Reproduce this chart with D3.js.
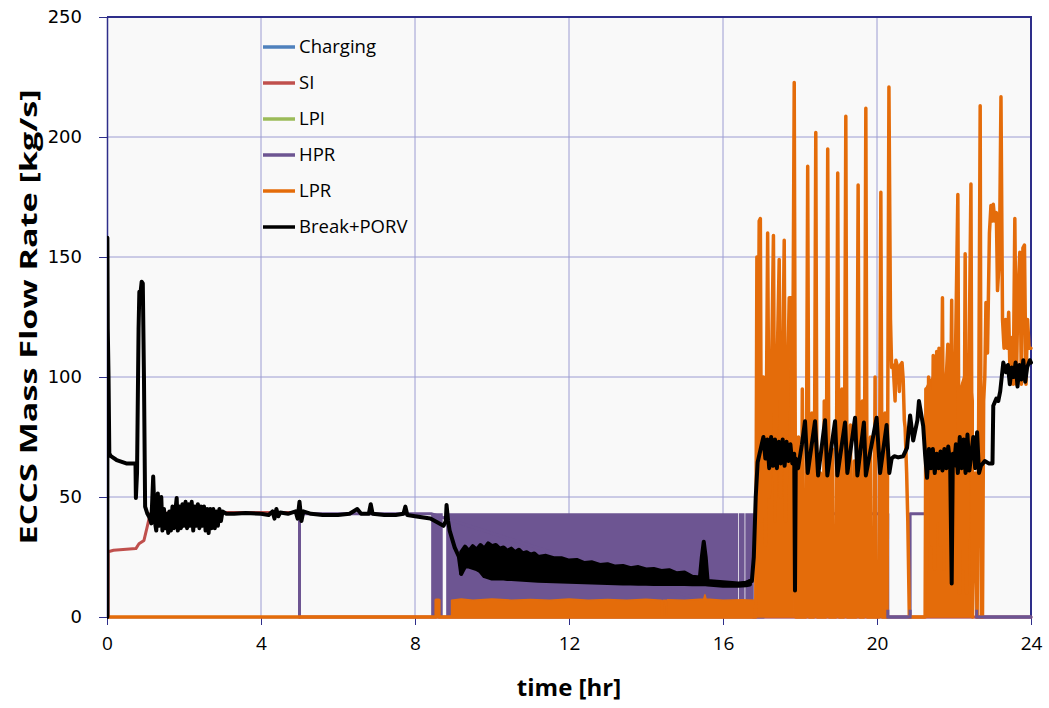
<!DOCTYPE html>
<html><head><meta charset="utf-8">
<script src="https://cdn.jsdelivr.net/npm/d3@7"></script>
<style>body{margin:0;background:#fff}</style>
</head><body><svg id="c" width="1049" height="708"></svg>
<script>
// ---------------- DATA ----------------
const xTicks = [0, 4, 8, 12, 16, 20, 24];
const yTicks = [0, 50, 100, 150, 200, 250];
const seriesNames = ["Charging", "SI", "LPI", "HPR", "LPR", "Break+PORV"];
const seriesColors = ["#4f81bd", "#c0504d", "#9bbb59", "#6d5592", "#e46c0a", "#000000"];

// SI (safety injection)
const siT = [0, 0.03, 0.03, 0.17, 0.75, 0.83, 0.96, 1.05, 1.12, 2.0, 5.0, 5.0, 24];
const siV = [0, 0, 27.2, 27.8, 28.5, 30.5, 31.9, 38, 43, 43.5, 43.5, 0, 0];

// HPR step line
const hprT = [5.0, 5.0, 8.42, 16.8, 17.05, 17.05, 20.28, 20.28, 20.86, 20.86, 22.59, 22.59, 24];
const hprV = [0, 43, 43, 0, 0, 43, 43, 0, 0, 43, 43, 0, 0];
// HPR dense switching region (envelope)
const hprBandT  = [8.42, 8.72, 8.72, 8.81, 8.81, 16.39, 16.39, 16.41, 16.41, 16.56, 16.56, 16.58, 16.58, 16.8];
const hprBandHi = [43.2, 43.2, 0, 0, 43.2, 43.2, 0, 0, 43.2, 43.2, 0, 0, 43.2, 43.2];

// LPR line
const lprT = [0, 8.55, 8.55, 8.62, 8.62, 16.85,
  16.88, 16.9, 16.94, 16.97, 17.0, 17.05, 17.1, 17.16, 17.2, 17.25, 17.31, 17.35, 17.4, 17.46, 17.5, 17.55, 17.59, 17.63, 17.68, 17.72, 17.76, 17.8, 17.85,
  17.89, 17.93, 17.96, 17.98, 18.03, 18.06, 18.09, 18.15, 18.2, 18.24, 18.28, 18.31, 18.33, 18.36, 18.41, 18.45, 18.5, 18.53, 18.55, 18.6, 18.63, 18.65,
  18.67, 18.72, 18.76, 18.81, 18.84, 18.86, 18.93, 18.98, 19.02, 19.06, 19.09, 19.11, 19.14, 19.19, 19.23, 19.28, 19.31, 19.33, 19.38, 19.41, 19.43,
  19.46, 19.51, 19.55, 19.59, 19.62, 19.64, 19.66, 19.71, 19.75, 19.8, 19.83, 19.85, 19.92, 19.95, 19.97, 20.05, 20.1, 20.14, 20.18, 20.21, 20.23,
  20.26, 20.31, 20.35, 20.38, 20.42, 20.47, 20.49, 20.55, 20.58, 20.61, 20.65, 20.68, 20.71, 20.73, 20.77, 20.8, 20.84, 21.25,
  21.27, 21.3, 21.34, 21.38, 21.42, 21.46, 21.5, 21.55, 21.58, 21.61, 21.65, 21.7, 21.74, 21.8, 21.84, 21.88, 21.94, 21.98, 22.03, 22.1, 22.14,
  22.2, 22.25, 22.29, 22.33, 22.38, 22.44, 22.48, 22.55, 22.6, 22.64, 22.68, 22.71, 22.74, 22.77, 22.8, 22.83, 22.87, 22.92, 22.96, 23.0, 23.02,
  23.06, 23.1, 23.13, 23.18, 23.22, 23.26, 23.3, 23.34, 23.38, 23.42, 23.46, 23.5, 23.54, 23.58, 23.62, 23.66, 23.71, 23.75, 23.79, 23.83, 23.87,
  23.91, 23.95, 24.0];
const lprV = [0, 0, 7, 7, 0, 0,
  150, 60, 165, 166, 40, 100, 30, 160, 50, 90, 159, 40, 100, 149, 50, 100, 157, 40, 100, 133, 133, 60, 222.7,
  0, 0, 75, 0, 0, 95, 0, 0, 187.8, 0, 0, 85, 0, 0, 201.9, 0, 0, 60, 0, 0, 90, 0,
  0, 195, 0, 0, 70, 0, 0, 185, 0, 0, 95, 0, 0, 208.6, 0, 0, 80, 0, 0, 65, 0,
  0, 180, 0, 0, 90, 0, 0, 212, 0, 0, 75, 0, 0, 100, 0, 0, 177, 0, 0, 85, 0,
  0, 220.8, 124, 104, 105, 90, 107, 103, 94, 105, 106, 99, 82, 79, 60, 40, 0, 0,
  95, 20, 100, 90, 30, 109, 20, 110.6, 40, 112, 30, 133, 20, 100, 113.6, 30, 132, 20, 100, 176, 10,
  95, 20, 151.4, 10, 90, 180.4, 0, 60, 0, 80, 213, 0, 0, 90, 100, 131, 110, 160, 171.5, 165, 172,
  165, 168.5, 136, 150, 216.8, 124, 112, 124, 112, 127, 97, 116.5, 97, 166, 97, 134, 152, 97, 153.7, 155, 97,
  124, 112, 112];
// LPR dense regions (envelopes, low edge 0)
const lprBand1T  = [8.95, 9.2, 9.5, 10, 10.5, 11, 11.5, 12, 12.5, 13, 13.5, 14, 14.4, 14.41, 14.43, 14.44, 14.51, 14.52, 14.54, 14.55, 15, 15.5, 15.53, 15.56, 16, 16.5, 16.84];
const lprBand1Hi = [7, 7.5, 7, 7.5, 7, 7.3, 7, 7.5, 7, 7.3, 7, 7.4, 7, 0, 0, 7, 7, 0, 0, 7.2, 7, 7.5, 9.3, 7.5, 7, 7.2, 7];
const lprBand2T  = [16.85, 16.86, 16.9, 17.0, 17.1, 17.2, 17.3, 17.4, 17.5, 17.6, 17.7, 17.8, 17.84];
const lprBand2Hi = [0, 70, 95, 85, 100, 95, 105, 98, 108, 100, 105, 95, 90];
const lprBand3T  = [21.25, 21.26, 21.35, 21.45, 21.55, 21.65, 21.75, 21.85, 21.95, 22.05, 22.15, 22.25, 22.35, 22.45, 22.5];
const lprBand3Hi = [0, 95, 98, 100, 96, 104, 100, 106, 98, 102, 95, 100, 92, 97, 90];

// Break+PORV line, part 1 (0 - 9.2 hr)
const brkT1 = [0, 0.01, 0.01, 0.02, 0.04, 0.06, 0.1, 0.25, 0.5, 0.74, 0.75, 0.78, 0.82, 0.84, 0.87, 0.9, 0.93, 0.96, 0.99, 1.05, 1.1, 1.15, 1.2, 1.24, 1.28, 1.32, 1.36, 1.41,
  1.44, 1.48, 1.52, 1.56, 1.59, 1.62, 1.66, 1.7, 1.74, 1.78, 1.81, 1.84, 1.88, 1.92, 1.96, 2.0, 2.04, 2.08, 2.12, 2.16, 2.2, 2.24, 2.28, 2.32, 2.36,
  2.4, 2.44, 2.48, 2.52, 2.56, 2.6, 2.64, 2.68, 2.72, 2.76, 2.8, 2.84, 2.88, 2.92, 2.96, 3.0, 3.1, 3.3, 3.6, 4.0, 4.2, 4.3, 4.35, 4.4, 4.45, 4.5,
  4.7, 4.9, 4.95, 5.0, 5.05, 5.1, 5.3, 5.6, 6.0, 6.3, 6.5, 6.6, 6.8, 6.85, 6.9, 7.2, 7.5, 7.7, 7.75, 7.8, 8.0, 8.4, 8.74, 8.8, 8.82, 8.86, 8.9,
  9.03, 9.14, 9.2];
const brkV1 = [0, 0, 158, 120, 100, 68.2, 67, 65.4, 64, 64, 49.6, 60, 120, 135.5, 135, 139.7, 139, 100, 46, 43, 41.6, 39, 58.5, 40, 36, 51.5, 38, 50,
  36, 45, 37, 43, 35, 44, 36, 46, 37, 45, 49.6, 36, 46, 37, 47, 38, 48, 37, 47, 38, 48, 36, 46, 38, 47,
  37, 46, 38, 46, 36, 45, 35, 45, 37, 45, 37, 44, 38, 45, 40, 44, 43, 43, 43.3, 43, 42.5, 44, 41, 45, 42, 43.5,
  43, 44, 41, 48, 40, 44, 43, 42.5, 42.5, 43, 45, 43, 43, 47, 43, 42.5, 42.5, 43, 46, 42.5, 42, 41, 38, 40, 46.7, 40, 36,
  29, 25.1, 18];
// Break+PORV dense oscillation band (9.2 - 16.7 hr)
const brkBandT  = [9.2, 9.3, 9.4, 9.5, 9.6, 9.7, 9.8, 9.9, 10.0, 10.1, 10.2, 10.3, 10.4, 10.5, 10.6, 10.7, 10.8, 10.9, 11.0, 11.1, 11.2, 11.4, 11.6, 11.8,
  12.0, 12.2, 12.4, 12.6, 12.8, 13.0, 13.2, 13.4, 13.6, 13.8, 14.0, 14.2, 14.4, 14.6, 14.8, 15.0, 15.2, 15.4, 15.45, 15.5, 15.55, 15.6, 16.0, 16.4, 16.6, 16.7];
const brkBandHi = [27, 29.3, 27.5, 29.5, 28, 30, 28.5, 30.7, 29.5, 30, 28.5, 29, 27.5, 28.5, 27, 28, 26.5, 27, 26, 26.5, 25, 25.5, 24.5, 24.5,
  23.5, 23.8, 22.5, 22.8, 21.7, 22, 21, 21.3, 20.3, 20.8, 19.8, 20, 19.2, 19.5, 18.2, 18.5, 16.8, 16.5, 25, 31.4, 25, 15, 14.5, 14, 14.3, 15];
const brkBandLo = [18, 21, 21, 20.5, 20, 19, 17, 16.5, 16, 16, 16, 16, 15.8, 15.8, 15.7, 15.6, 15.5, 15.4, 15.3, 15.2, 15.1, 15, 14.9, 14.8,
  14.7, 14.6, 14.5, 14.4, 14.3, 14.2, 14.1, 14, 14, 13.9, 13.9, 13.8, 13.8, 13.8, 13.7, 13.7, 13.6, 13.6, 13.6, 13.6, 13.6, 13.5, 13, 13, 13.2, 13.5];
// Break+PORV line, part 2 (16.7 - 24 hr)
const brkT2 = [16.7, 16.75, 16.8, 16.85, 16.9, 16.95, 17.05, 17.1, 17.15, 17.2, 17.25, 17.3, 17.35, 17.4, 17.45, 17.5, 17.55, 17.6, 17.65, 17.7, 17.75, 17.8,
  17.85, 17.87, 17.89, 17.95, 18.05, 18.13, 18.2, 18.39, 18.47, 18.65, 18.71, 18.91, 18.97, 19.17, 19.23, 19.43, 19.49, 19.66, 19.71, 19.99, 20.08,
  20.25, 20.32, 20.38, 20.45, 20.55, 20.68, 20.78, 20.86, 20.94, 21.05, 21.09, 21.2, 21.25, 21.3, 21.35, 21.4, 21.45, 21.5, 21.55, 21.6, 21.65,
  21.7, 21.75, 21.8, 21.85, 21.9, 21.94, 21.97, 22.0, 22.05, 22.1, 22.15, 22.2, 22.25, 22.3, 22.35, 22.4, 22.5, 22.55, 22.6, 22.65, 22.7, 22.8,
  22.9, 23.0, 23.02, 23.1, 23.15, 23.2, 23.28, 23.35, 23.4, 23.45, 23.5, 23.55, 23.6, 23.65, 23.7, 23.75, 23.8, 23.85, 23.9, 23.97, 24.0];
const brkV2 = [15, 15, 25, 50, 64.5, 68, 75, 66, 74, 62, 75, 63, 74, 62, 73, 64, 74, 63, 73, 65, 72, 64,
  68, 11, 66, 62, 72, 81.6, 60, 81.6, 59, 82, 59, 81.6, 59, 81, 60, 83, 59, 81, 59, 83, 60,
  80, 60, 66, 67, 66.5, 67, 70.5, 84, 73.5, 82, 90, 79.5, 67.5, 58, 70, 62, 70, 60, 68, 62, 69,
  61, 70, 62, 71, 64, 14, 68, 63, 72, 60, 75, 62, 74, 60, 76, 61, 75, 62, 77, 60, 63, 65,
  64, 64, 88, 91, 90, 94, 106, 102, 105, 97, 104, 100, 106, 96, 105, 99, 107, 98, 104, 107, 106];

// ---------------- DRAW ----------------
const svg = d3.select('#c');
const x = d3.scaleLinear().domain([0, 24]).range([107, 1031]);
const y = d3.scaleLinear().domain([0, 250]).range([617, 17]);
const navy = '#2e2e8a';
const gridC = '#9c9cd2';

svg.append('rect').attr('x', x(0)).attr('y', y(250)).attr('width', x(24) - x(0)).attr('height', y(0) - y(250)).attr('fill', '#f9f9f9');

// gridlines
svg.append('g').selectAll('line').data(yTicks.filter(v => v > 0 && v < 250)).join('line')
  .attr('x1', x(0)).attr('x2', x(24)).attr('y1', d => y(d)).attr('y2', d => y(d))
  .attr('stroke', gridC).attr('stroke-width', 1);
svg.append('g').selectAll('line').data(xTicks.filter(v => v > 0 && v < 24)).join('line')
  .attr('y1', y(0)).attr('y2', y(250)).attr('x1', d => x(d)).attr('x2', d => x(d))
  .attr('stroke', gridC).attr('stroke-width', 1);

// top & right border
svg.append('path').attr('d', `M${x(0)},${y(250)}H${x(24)}V${y(0)}`).attr('fill', 'none').attr('stroke', navy).attr('stroke-width', 2);

// axes
const yAxis = svg.append('g').attr('transform', `translate(${x(0)},0)`)
  .call(d3.axisLeft(y).tickValues(yTicks).tickSize(8).tickPadding(17).tickSizeOuter(0));
yAxis.selectAll('text').attr('font-family', 'DejaVu Sans').attr('font-size', 18).attr('fill', '#000');
const xAxis = svg.append('g').attr('transform', `translate(0,${y(0)})`)
  .call(d3.axisBottom(x).tickValues(xTicks).tickSize(8).tickPadding(12).tickSizeOuter(0));
xAxis.selectAll('text').attr('font-family', 'Open Sans').attr('font-size', 19).attr('fill', '#000');
[yAxis, xAxis].forEach(a => { a.selectAll('line').attr('stroke', navy); a.select('.domain').attr('stroke', navy).attr('stroke-width', 1.5); });

// clip
svg.append('clipPath').attr('id', 'pc').append('rect').attr('x', x(0)).attr('y', y(250) - 2).attr('width', x(24) - x(0) + 2).attr('height', y(0) - y(250) + 6);
const plot = svg.append('g').attr('clip-path', 'url(#pc)');

const line = d3.line().x(d => x(d[0])).y(d => y(d[1]));
const areaLo0 = d3.area().x(d => x(d[0])).y0(y(0)).y1(d => y(d[1]));
const areaBand = d3.area().x(d => x(d[0])).y0(d => y(d[2])).y1(d => y(d[1]));

function drawLine(T, V, color, w) {
  plot.append('path').datum(d3.zip(T, V)).attr('d', line).attr('fill', 'none')
    .attr('stroke', color).attr('stroke-width', w).attr('stroke-linejoin', 'round').attr('stroke-linecap', 'round');
}
function drawArea(T, Hi, color, w) {
  plot.append('path').datum(d3.zip(T, Hi)).attr('d', areaLo0).attr('fill', color)
    .attr('stroke', color).attr('stroke-width', w).attr('stroke-linejoin', 'round');
}

// SI
drawLine(siT, siV, seriesColors[1], 3);
// HPR
drawArea(hprBandT, hprBandHi, seriesColors[3], 0);
drawLine(hprT, hprV, seriesColors[3], 3);
// LPR
drawArea(lprBand1T, lprBand1Hi, seriesColors[4], 1.5);
drawArea(lprBand2T, lprBand2Hi, seriesColors[4], 1.5);
drawArea(lprBand3T, lprBand3Hi, seriesColors[4], 1.5);
drawLine(lprT, lprV, seriesColors[4], 3.5);
// HPR zero line shows over LPR at the bottom after 17.9 hr
svg.append('clipPath').attr('id', 'pc2').append('rect')
  .attr('x', x(17.9)).attr('y', y(3)).attr('width', x(24) - x(17.9)).attr('height', y(0) - y(3) + 4);
svg.append('path').datum(d3.zip(hprT, hprV)).attr('d', line).attr('fill', 'none')
  .attr('stroke', seriesColors[3]).attr('stroke-width', 3).attr('clip-path', 'url(#pc2)');
// Break+PORV
drawLine(brkT1, brkV1, '#000', 4);
plot.append('path').datum(d3.zip(brkBandT, brkBandHi, brkBandLo)).attr('d', areaBand)
  .attr('fill', '#000').attr('stroke', '#000').attr('stroke-width', 4).attr('stroke-linejoin', 'round');
drawLine(brkT2, brkV2, '#000', 4);

// legend
const lg = svg.append('g').attr('transform', 'translate(263,47)');
seriesNames.forEach((n, i) => {
  const g = lg.append('g').attr('transform', `translate(0,${i * 36})`);
  g.append('line').attr('x1', 0).attr('x2', 32).attr('stroke', seriesColors[i]).attr('stroke-width', 3.5);
  g.append('text').attr('x', 36).attr('dy', '0.35em').text(n)
    .attr('font-family', 'Open Sans').attr('font-size', 18.5).attr('fill', '#000');
});

// axis titles
svg.append('text').attr('x', (x(0) + x(24)) / 2).attr('y', 696).attr('text-anchor', 'middle')
  .attr('font-family', 'Open Sans').attr('font-weight', 'bold').attr('font-size', 24).text('time [hr]');
svg.append('text').attr('transform', `translate(37,${(y(0) + y(250)) / 2}) rotate(-90)`).attr('text-anchor', 'middle')
  .attr('font-family', 'Open Sans').attr('font-weight', 'bold').attr('font-size', 23)
  .attr('textLength', 455).attr('lengthAdjust', 'spacingAndGlyphs').text('ECCS Mass Flow Rate [kg/s]');
</script></body></html>
